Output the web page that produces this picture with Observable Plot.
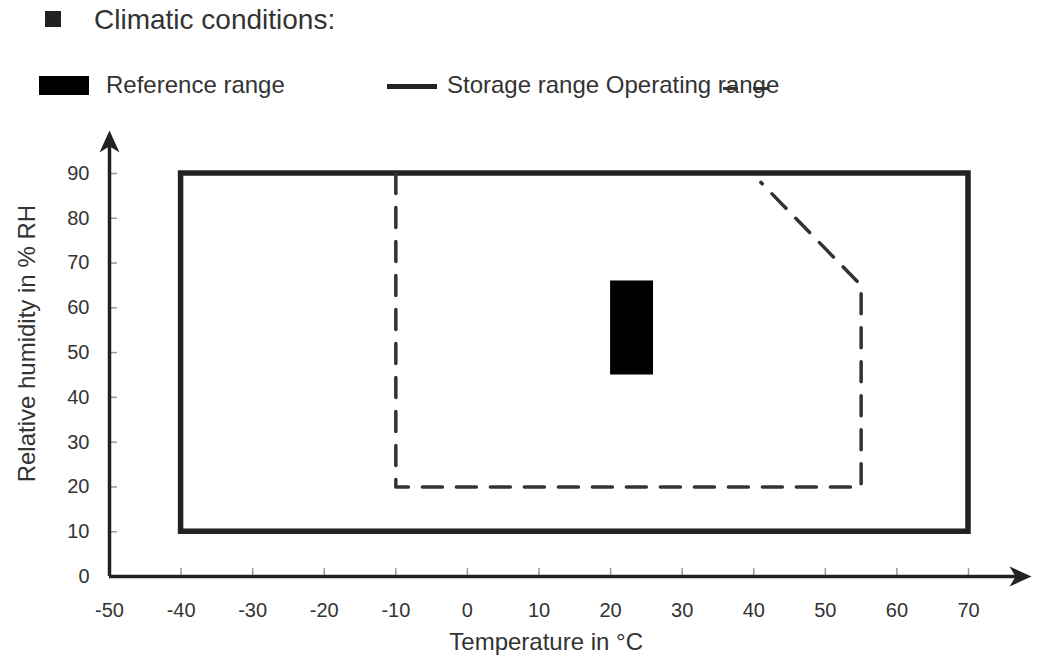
<!DOCTYPE html>
<html>
<head>
<meta charset="utf-8">
<script src="https://cdn.jsdelivr.net/npm/d3@7"></script>
<script src="https://cdn.jsdelivr.net/npm/@observablehq/plot@0.6"></script>
<style>
  html, body { margin: 0; padding: 0; background: #fff; }
  #wrap { position: relative; width: 1037px; height: 662px; font-family: "Liberation Sans", Arial, sans-serif; color: #333; overflow: hidden; }
  #header { position: relative; width: 1037px; height: 112px; }
  #header .abs { position: absolute; line-height: 1; white-space: nowrap; }
  #chart { position: absolute; left: 0; top: 112px; }
</style>
</head>
<body>
<div id="wrap">
  <div id="header">
    <div class="abs" style="left:45px;top:11px;width:16px;height:16px;background:#222;"></div>
    <div class="abs" style="left:94px;top:6px;font-size:28px;">Climatic conditions:</div>
    <div class="abs" style="left:39px;top:76px;width:50px;height:19px;background:#000;"></div>
    <div class="abs" style="left:106px;top:73px;font-size:24px;">Reference range</div>
    <div class="abs" style="left:387px;top:84px;width:50px;height:5px;background:#222;"></div>
    <div class="abs" style="left:447px;top:73px;font-size:24px;">Storage range Operating range</div>
    <div class="abs" style="left:723px;top:87px;width:15px;height:3px;background:#333;"></div>
    <div class="abs" style="left:753px;top:87px;width:16px;height:3px;background:#333;"></div>
  </div>
  <div id="chart"></div>
</div>
<script>
// Tick values
const xTicks = [-50, -40, -30, -20, -10, 0, 10, 20, 30, 40, 50, 60, 70];
const yTicks = [0, 10, 20, 30, 40, 50, 60, 70, 80, 90];

// Storage range (solid rectangle)
const storageTemp = [-40, 70];
const storageHumidity = [10, 90];

// Reference range (filled rectangle)
const referenceTemp = [20, 26];
const referenceHumidity = [45, 66];

// Operating range (dashed outline)
const operatingTemp = [-10, -10, 55, 55, 41];
const operatingHumidity = [90, 20, 20, 65, 88];

// Axis extents (arrow tips)
const axisTempEnd = 78.8;
const axisHumidityEnd = 99.6;

const xLabel = "Temperature in °C";
const yLabel = "Relative humidity in % RH";

const storage = [{x1: storageTemp[0], x2: storageTemp[1], y1: storageHumidity[0], y2: storageHumidity[1]}];
const reference = [{x1: referenceTemp[0], x2: referenceTemp[1], y1: referenceHumidity[0], y2: referenceHumidity[1]}];
const operating = operatingTemp.map((t, i) => ({x: t, y: operatingHumidity[i]}));

const arrowUp = {
  draw(ctx) {
    const L = 22, w = 10;
    ctx.moveTo(0, 0);
    ctx.lineTo(w, L);
    ctx.lineTo(0, L * 0.72);
    ctx.lineTo(-w, L);
    ctx.closePath();
  }
};
const arrowRight = {
  draw(ctx) {
    const L = 22, w = 10;
    ctx.moveTo(0, 0);
    ctx.lineTo(-L, w);
    ctx.lineTo(-L * 0.72, 0);
    ctx.lineTo(-L, -w);
    ctx.closePath();
  }
};

const xMin = xTicks[0];
const yMin = yTicks[0];

const chart = Plot.plot({
  width: 1037,
  height: 550,
  marginLeft: 109,
  marginRight: 69,
  marginTop: 61,
  marginBottom: 86,
  x: {domain: [xTicks[0], xTicks[xTicks.length - 1]]},
  y: {domain: [yTicks[0], yTicks[yTicks.length - 1]]},
  style: {fontFamily: "'Liberation Sans', Arial, sans-serif", fontSize: "20px", color: "#333", background: "white", overflow: "visible"},
  marks: [
    // tick marks (inside)
    Plot.ruleX(xTicks.slice(1), {y1: yMin, y2: yMin + 1.8, stroke: "#999", strokeWidth: 1.5}),
    Plot.ruleY(yTicks.slice(1), {x1: xMin, x2: xMin + 1.1, stroke: "#999", strokeWidth: 1.5}),
    // tick labels
    Plot.axisX(xTicks, {tickSize: 0, tickPadding: 26, tickFormat: d => String(d), label: null, fontSize: 20, fill: "#333"}),
    Plot.axisY(yTicks, {tickSize: 0, tickPadding: 20, tickFormat: d => String(d), label: null, fontSize: 20, fill: "#333"}),
    // storage range
    Plot.rect(storage, {x1: "x1", x2: "x2", y1: "y1", y2: "y2", fill: "none", stroke: "#222", strokeWidth: 5.5}),
    // operating range
    Plot.line(operating, {x: "x", y: "y", stroke: "#333", strokeWidth: 3.5, strokeDasharray: "20,14", strokeLinejoin: "round"}),
    // reference range
    Plot.rect(reference, {x1: "x1", x2: "x2", y1: "y1", y2: "y2", fill: "#000"}),
    // axis lines
    Plot.ruleY([yMin], {x1: xMin, x2: axisTempEnd - 1.5, stroke: "#222", strokeWidth: 3.5}),
    Plot.ruleX([xMin], {y1: yMin, y2: axisHumidityEnd - 2, stroke: "#222", strokeWidth: 3.5}),
    Plot.dot([{x: axisTempEnd, y: yMin}], {x: "x", y: "y", symbol: arrowRight, fill: "#222", stroke: "none", r: 5}),
    Plot.dot([{x: xMin, y: axisHumidityEnd}], {x: "x", y: "y", symbol: arrowUp, fill: "#222", stroke: "none", r: 5}),
    // axis titles
    Plot.text([xLabel], {x: 11, y: yMin, text: d => d, dy: 66, fontSize: 24, fill: "#333", textAnchor: "middle", lineAnchor: "middle"}),
    Plot.text([yLabel], {x: -61.5, y: 52, text: d => d, rotate: -90, fontSize: 24, fill: "#333", textAnchor: "middle", lineAnchor: "middle"})
  ]
});
document.getElementById("chart").appendChild(chart);
</script>
</body>
</html>
